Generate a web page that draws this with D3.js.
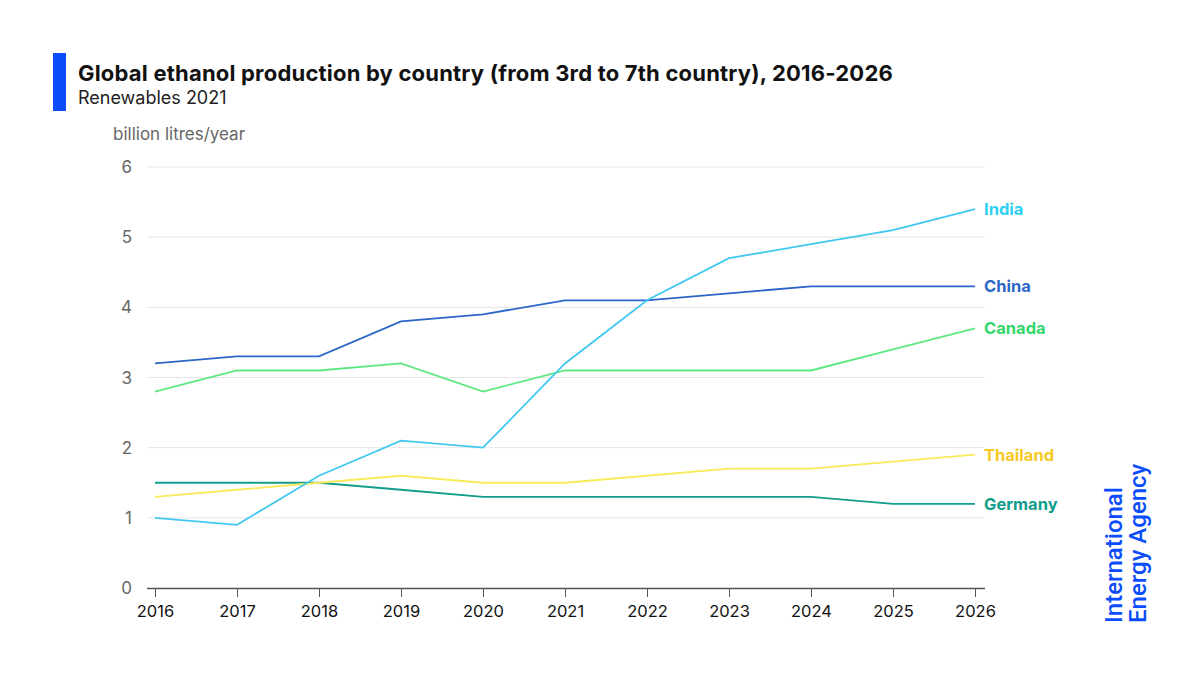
<!DOCTYPE html>
<html>
<head>
<meta charset="utf-8">
<script src="https://cdn.jsdelivr.net/npm/d3@7"></script>
<style>
  body { margin: 0; background: #fff; }
  svg { font-family: Inter, "Noto Sans", sans-serif; }
</style>
</head>
<body>
<div id="main"></div>
<script>
// data
const years = [2016, 2017, 2018, 2019, 2020, 2021, 2022, 2023, 2024, 2025, 2026];
const india    = [1.0, 0.9, 1.6, 2.1, 2.0, 3.2, 4.1, 4.7, 4.9, 5.1, 5.4];
const china    = [3.2, 3.3, 3.3, 3.8, 3.9, 4.1, 4.1, 4.2, 4.3, 4.3, 4.3];
const canada   = [2.8, 3.1, 3.1, 3.2, 2.8, 3.1, 3.1, 3.1, 3.1, 3.4, 3.7];
const thailand = [1.3, 1.4, 1.5, 1.6, 1.5, 1.5, 1.6, 1.7, 1.7, 1.8, 1.9];
const germany  = [1.5, 1.5, 1.5, 1.4, 1.3, 1.3, 1.3, 1.3, 1.3, 1.2, 1.2];
const yTicks = [0, 1, 2, 3, 4, 5, 6];

const series = [
  {name: "Germany",  values: germany,  line: "#109e8b", text: "#109e8b"},
  {name: "Thailand", values: thailand, line: "#f9ea5c", text: "#f6c823"},
  {name: "Canada",   values: canada,   line: "#5ee882", text: "#33d66a"},
  {name: "China",    values: china,    line: "#2b66c8", text: "#2b66c8"},
  {name: "India",    values: india,    line: "#41c8f0", text: "#2ed0f2"}
];

const W = 1200, H = 675;
let svg = d3.select("#main").append("svg")
  .attr("width", W).attr("height", H);

// header
svg.append("rect").attr("x", 53).attr("y", 53).attr("width", 13).attr("height", 58).attr("fill", "#0b4dfb");
svg.append("text").attr("x", 78).attr("y", 81)
  .attr("font-size", 22).attr("font-weight", 700).attr("fill", "#111")
  .attr("letter-spacing", 0.2)
  .text("Global ethanol production by country (from 3rd to 7th country), 2016-2026");
svg.append("text").attr("x", 78).attr("y", 104)
  .attr("font-size", 18).attr("fill", "#222")
  .text("Renewables 2021");
svg.append("text").attr("x", 113).attr("y", 140)
  .attr("font-size", 17).attr("fill", "#666")
  .text("billion litres/year");

let x = d3.scalePoint()
  .domain(years)
  .range([155, 975]);

let y = d3.scaleLinear()
  .domain([0, 6])
  .range([588, 167]);

// gridlines
svg.append("g")
  .selectAll("line")
  .data(yTicks.filter(d => d > 0))
  .enter()
  .append("line")
    .attr("x1", 147).attr("x2", 985)
    .attr("y1", d => y(d)).attr("y2", d => y(d))
    .attr("stroke", "#e6e6e6").attr("stroke-width", 1);

// y labels
svg.append("g")
  .selectAll("text")
  .data(yTicks)
  .enter()
  .append("text")
    .attr("x", 132).attr("y", d => y(d) + 6)
    .attr("text-anchor", "end")
    .attr("font-size", 17).attr("fill", "#666")
    .text(d => d);

// x axis
let xAxis = svg.append("g")
  .attr("transform", `translate(0,${y(0)})`)
  .call(d3.axisBottom(x).tickSize(9).tickPadding(8).tickSizeOuter(0));
xAxis.select(".domain").attr("d", "M147,0.5H985").attr("stroke", "#555").attr("stroke-width", 1.5);
xAxis.selectAll(".tick line").attr("stroke", "#555");
xAxis.selectAll(".tick text").attr("font-size", 16.5).attr("fill", "#111").attr("font-family", "Inter, sans-serif");

// lines
let line = d3.line()
  .x((d, i) => x(years[i]))
  .y(d => y(d));

svg.append("g")
  .selectAll("path")
  .data(series)
  .enter()
  .append("path")
    .attr("d", d => line(d.values))
    .attr("fill", "none")
    .attr("stroke", d => d.line)
    .attr("stroke-width", 1.8);

// end labels
svg.append("g")
  .selectAll("text")
  .data(series)
  .enter()
  .append("text")
    .attr("x", 984)
    .attr("y", d => y(d.values[d.values.length - 1]) + 6)
    .attr("font-size", 16.5).attr("font-weight", 700)
    .attr("fill", d => d.text)
    .text(d => d.name);

// IEA logo
let logo = svg.append("g")
  .attr("transform", "translate(1122,623) rotate(-90)")
  .attr("fill", "#0b4dfb").attr("font-size", 24).attr("font-weight", 500)
  .attr("font-family", "Roboto, 'Liberation Sans', sans-serif");
logo.append("text").attr("x", 0).attr("y", 0).text("International");
logo.append("text").attr("x", 0).attr("y", 24).text("Energy Agency");
</script>
</body>
</html>
